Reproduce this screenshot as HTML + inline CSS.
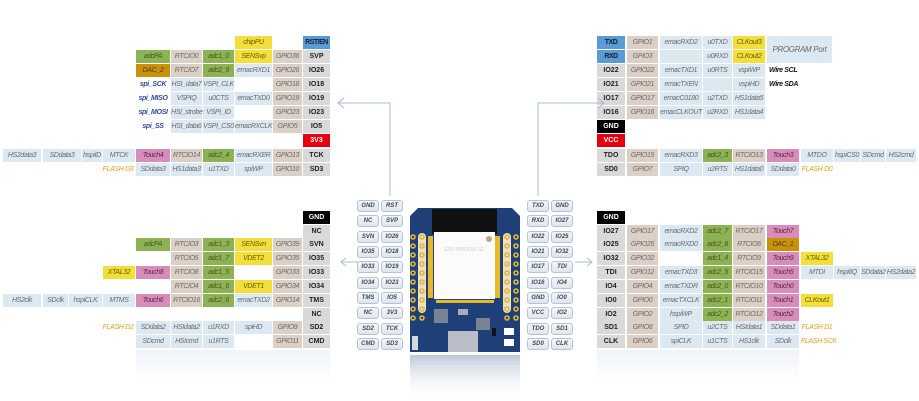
<!DOCTYPE html>
<html><head><meta charset="utf-8"><style>
body{margin:0;width:919px;height:401px;background:#fff;position:relative;overflow:hidden;font-family:"Liberation Sans",sans-serif}
.c{position:absolute;height:13px;font:italic 7px "Liberation Sans",sans-serif;letter-spacing:-0.35px;color:#6a6a6a;text-align:center;line-height:13px;white-space:nowrap;overflow:visible}
.P{background:#d9d9d9;color:#222;font-style:normal;font-weight:bold;letter-spacing:0}
.t{background:#dccfc6}.b{background:#dce9f3}.g{background:#8db254;color:#3f5a1e}.y{background:#f2df3c;color:#6b5d00}
.p{background:#d88cba;color:#5a2845}.d{background:#c9900c;color:#5a3c00}
.k{background:#000;color:#fff;font-style:normal;font-weight:bold;letter-spacing:0}.r{background:#e3000f;color:#fff;font-style:normal;font-weight:bold;letter-spacing:0}
.s{background:#5b9bd5;color:#123;font-style:normal;font-weight:bold;letter-spacing:-0.5px}
.n{color:#2e4d9a;font-weight:bold}.f{color:#e0a020}.w{color:#111;font-weight:bold;text-align:left}
.pl{position:absolute;width:20px;height:10px;border:1px solid #b5c3d3;border-radius:3px;background:linear-gradient(#f4f7fa,#dde5ee);font:italic bold 6px "Liberation Sans",sans-serif;color:#445;text-align:center;line-height:10px}
</style></head><body>

<!-- top-left -->
<div class="c y" style="left:235px;top:36px;width:37px">chipPU</div><div class="c s" style="left:303px;top:36px;width:27px">RST/EN</div>
<div class="c g" style="left:136px;top:50px;width:34px">adcPA</div><div class="c t" style="left:171px;top:50px;width:31px">RTCIO0</div><div class="c g" style="left:203px;top:50px;width:31px">adc1_0</div><div class="c y" style="left:235px;top:50px;width:37px">SENSvp</div><div class="c t" style="left:273px;top:50px;width:29px">GPIO36</div><div class="c P" style="left:303px;top:50px;width:27px">SVP</div>
<div class="c d" style="left:136px;top:64px;width:34px">DAC_2</div><div class="c t" style="left:171px;top:64px;width:31px">RTCIO7</div><div class="c g" style="left:203px;top:64px;width:31px">adc2_9</div><div class="c b" style="left:235px;top:64px;width:37px">emacRXD1</div><div class="c t" style="left:273px;top:64px;width:29px">GPIO26</div><div class="c P" style="left:303px;top:64px;width:27px">IO26</div>
<div class="c n" style="left:136px;top:78px;width:34px">spi_SCK</div><div class="c b" style="left:171px;top:78px;width:31px">HSI_data7</div><div class="c b" style="left:203px;top:78px;width:31px">VSPI_CLK</div><div class="c t" style="left:273px;top:78px;width:29px">GPIO18</div><div class="c P" style="left:303px;top:78px;width:27px">IO18</div>
<div class="c n" style="left:136px;top:92px;width:34px">spi_MISO</div><div class="c b" style="left:171px;top:92px;width:31px">VSPIQ</div><div class="c b" style="left:203px;top:92px;width:31px">u0CTS</div><div class="c b" style="left:235px;top:92px;width:37px">emacTXD0</div><div class="c t" style="left:273px;top:92px;width:29px">GPIO19</div><div class="c P" style="left:303px;top:92px;width:27px">IO19</div>
<div class="c n" style="left:136px;top:106px;width:34px">spi_MOSI</div><div class="c b" style="left:171px;top:106px;width:31px">HSI_strobe</div><div class="c b" style="left:203px;top:106px;width:31px">VSPI_ID</div><div class="c t" style="left:273px;top:106px;width:29px">GPIO23</div><div class="c P" style="left:303px;top:106px;width:27px">IO23</div>
<div class="c n" style="left:136px;top:120px;width:34px">spi_SS</div><div class="c b" style="left:171px;top:120px;width:31px">HSI_data6</div><div class="c b" style="left:203px;top:120px;width:31px">VSPI_CS0</div><div class="c b" style="left:235px;top:120px;width:37px">emacRXCLK</div><div class="c t" style="left:273px;top:120px;width:29px">GPIO5</div><div class="c P" style="left:303px;top:120px;width:27px">IO5</div>
<div class="c r" style="left:303px;top:134px;width:27px">3V3</div>
<div class="c b" style="left:3px;top:149px;width:38px">HS2data3</div><div class="c b" style="left:43px;top:149px;width:38px">SDdata3</div><div class="c b" style="left:82px;top:149px;width:20px">hspiID</div><div class="c b" style="left:103px;top:149px;width:32px">MTCK</div><div class="c p" style="left:136px;top:149px;width:34px">Touch4</div><div class="c t" style="left:171px;top:149px;width:31px">RTCIO14</div><div class="c g" style="left:203px;top:149px;width:31px">adc2_4</div><div class="c b" style="left:235px;top:149px;width:37px">emacRXER</div><div class="c t" style="left:273px;top:149px;width:29px">GPIO13</div><div class="c P" style="left:303px;top:149px;width:27px">TCK</div>
<div class="c f" style="left:100px;top:163px;width:36px">FLASH D3</div><div class="c b" style="left:136px;top:163px;width:34px">SDdata3</div><div class="c b" style="left:171px;top:163px;width:31px">HS1data3</div><div class="c b" style="left:203px;top:163px;width:31px">u1TXD</div><div class="c b" style="left:235px;top:163px;width:37px">spiWP</div><div class="c t" style="left:273px;top:163px;width:29px">GPIO10</div><div class="c P" style="left:303px;top:163px;width:27px">SD3</div>

<!-- bottom-left -->
<div class="c k" style="left:303px;top:211px;width:27px">GND</div>
<div class="c P" style="left:303px;top:225px;width:27px">NC</div>
<div class="c g" style="left:136px;top:238px;width:34px">adcPA</div><div class="c t" style="left:171px;top:238px;width:31px">RTCIO3</div><div class="c g" style="left:203px;top:238px;width:31px">adc1_3</div><div class="c y" style="left:235px;top:238px;width:37px">SENSvn</div><div class="c t" style="left:273px;top:238px;width:29px">GPIO39</div><div class="c P" style="left:303px;top:238px;width:27px">SVN</div>
<div class="c t" style="left:171px;top:252px;width:31px">RTCIO5</div><div class="c g" style="left:203px;top:252px;width:31px">adc1_7</div><div class="c y" style="left:235px;top:252px;width:37px">VDET2</div><div class="c t" style="left:273px;top:252px;width:29px">GPIO35</div><div class="c P" style="left:303px;top:252px;width:27px">IO35</div>
<div class="c y" style="left:103px;top:266px;width:32px">XTAL32</div><div class="c p" style="left:136px;top:266px;width:34px">Touch8</div><div class="c t" style="left:171px;top:266px;width:31px">RTCIO8</div><div class="c g" style="left:203px;top:266px;width:31px">adc1_5</div><div class="c t" style="left:273px;top:266px;width:29px">GPIO33</div><div class="c P" style="left:303px;top:266px;width:27px">IO33</div>
<div class="c t" style="left:171px;top:280px;width:31px">RTCIO4</div><div class="c g" style="left:203px;top:280px;width:31px">adc1_6</div><div class="c y" style="left:235px;top:280px;width:37px">VDET1</div><div class="c t" style="left:273px;top:280px;width:29px">GPIO34</div><div class="c P" style="left:303px;top:280px;width:27px">IO34</div>
<div class="c b" style="left:3px;top:294px;width:38px">HS2clk</div><div class="c b" style="left:43px;top:294px;width:25px">SDclk</div><div class="c b" style="left:69px;top:294px;width:33px">hspiCLK</div><div class="c b" style="left:103px;top:294px;width:32px">MTMS</div><div class="c p" style="left:136px;top:294px;width:34px">Touch6</div><div class="c t" style="left:171px;top:294px;width:31px">RTCIO16</div><div class="c g" style="left:203px;top:294px;width:31px">adc2_6</div><div class="c b" style="left:235px;top:294px;width:37px">emacTXD2</div><div class="c t" style="left:273px;top:294px;width:29px">GPIO14</div><div class="c P" style="left:303px;top:294px;width:27px">TMS</div>
<div class="c P" style="left:303px;top:308px;width:27px">NC</div>
<div class="c f" style="left:100px;top:321px;width:36px">FLASH D2</div><div class="c b" style="left:136px;top:321px;width:34px">SDdata2</div><div class="c b" style="left:171px;top:321px;width:31px">HSIdata2</div><div class="c b" style="left:203px;top:321px;width:31px">u1RXD</div><div class="c b" style="left:235px;top:321px;width:37px">spiHD</div><div class="c t" style="left:273px;top:321px;width:29px">GPIO9</div><div class="c P" style="left:303px;top:321px;width:27px">SD2</div>
<div class="c b" style="left:136px;top:335px;width:34px">SDcmd</div><div class="c b" style="left:171px;top:335px;width:31px">HSIcmd</div><div class="c b" style="left:203px;top:335px;width:31px">u1RTS</div><div class="c t" style="left:273px;top:335px;width:29px">GPIO11</div><div class="c P" style="left:303px;top:335px;width:27px">CMD</div>
<div style="position:absolute;left:136px;top:350px;width:194px;height:35px;background:linear-gradient(rgba(220,230,240,.45),rgba(255,255,255,0))"></div>

<!-- top-right -->
<div class="c s" style="left:597px;top:36px;width:28px">TXD</div><div class="c t" style="left:627px;top:36px;width:31px">GPIO1</div><div class="c b" style="left:660px;top:36px;width:42px">emacRXD2</div><div class="c b" style="left:703px;top:36px;width:29px">u0TXD</div><div class="c y" style="left:733px;top:36px;width:32px">CLKout3</div>
<div class="c b" style="left:767px;top:36px;width:65px;height:27px;line-height:27px;font-size:8px">PROGRAM Port</div>
<div class="c s" style="left:597px;top:50px;width:28px">RXD</div><div class="c t" style="left:627px;top:50px;width:31px">GPIO3</div><div class="c b" style="left:660px;top:50px;width:42px"></div><div class="c b" style="left:703px;top:50px;width:29px">u0RXD</div><div class="c y" style="left:733px;top:50px;width:32px">CLKout2</div>
<div class="c P" style="left:597px;top:64px;width:28px">IO22</div><div class="c t" style="left:627px;top:64px;width:31px">GPIO22</div><div class="c b" style="left:660px;top:64px;width:42px">emacTXD1</div><div class="c b" style="left:703px;top:64px;width:29px">u0RTS</div><div class="c b" style="left:733px;top:64px;width:32px">vspiWP</div><div class="c w" style="left:769px;top:64px;width:40px">Wire SCL</div>
<div class="c P" style="left:597px;top:78px;width:28px">IO21</div><div class="c t" style="left:627px;top:78px;width:31px">GPIO21</div><div class="c b" style="left:660px;top:78px;width:42px">emacTXEN</div><div class="c b" style="left:703px;top:78px;width:29px"></div><div class="c b" style="left:733px;top:78px;width:32px">vspiHD</div><div class="c w" style="left:769px;top:78px;width:40px">Wire SDA</div>
<div class="c P" style="left:597px;top:92px;width:28px">IO17</div><div class="c t" style="left:627px;top:92px;width:31px">GPIO17</div><div class="c b" style="left:660px;top:92px;width:42px">emacC0180</div><div class="c b" style="left:703px;top:92px;width:29px">u2TXD</div><div class="c b" style="left:733px;top:92px;width:32px">HS1data5</div>
<div class="c P" style="left:597px;top:106px;width:28px">IO16</div><div class="c t" style="left:627px;top:106px;width:31px">GPIO16</div><div class="c b" style="left:660px;top:106px;width:42px">emacCLKOUT</div><div class="c b" style="left:703px;top:106px;width:29px">u2RXD</div><div class="c b" style="left:733px;top:106px;width:32px">HS1data4</div>
<div class="c k" style="left:597px;top:120px;width:28px">GND</div>
<div class="c r" style="left:597px;top:134px;width:28px">VCC</div>
<div class="c P" style="left:597px;top:149px;width:28px">TDO</div><div class="c t" style="left:627px;top:149px;width:31px">GPIO15</div><div class="c b" style="left:660px;top:149px;width:42px">emacRXD3</div><div class="c g" style="left:703px;top:149px;width:29px">adc2_3</div><div class="c t" style="left:733px;top:149px;width:32px">RTCIO13</div><div class="c p" style="left:767px;top:149px;width:32px">Touch3</div><div class="c b" style="left:801px;top:149px;width:32px">MTDO</div><div class="c b" style="left:834px;top:149px;width:26px">hspiCS0</div><div class="c b" style="left:861px;top:149px;width:24px">SDcmd</div><div class="c b" style="left:886px;top:149px;width:30px">HS2cmd</div>
<div class="c P" style="left:597px;top:163px;width:28px">SD0</div><div class="c t" style="left:627px;top:163px;width:31px">GPIO7</div><div class="c b" style="left:660px;top:163px;width:42px">SPIQ</div><div class="c b" style="left:703px;top:163px;width:29px">u2RTS</div><div class="c b" style="left:733px;top:163px;width:32px">HS1data0</div><div class="c b" style="left:767px;top:163px;width:32px">SDdata0</div><div class="c f" style="left:801px;top:163px;width:32px">FLASH D0</div>

<!-- bottom-right -->
<div class="c k" style="left:597px;top:211px;width:28px">GND</div>
<div class="c P" style="left:597px;top:225px;width:28px">IO27</div><div class="c t" style="left:627px;top:225px;width:31px">GPIO17</div><div class="c b" style="left:660px;top:225px;width:42px">emacRXD2</div><div class="c g" style="left:703px;top:225px;width:29px">adc2_7</div><div class="c t" style="left:733px;top:225px;width:32px">RTCIO17</div><div class="c p" style="left:767px;top:225px;width:32px">Touch7</div>
<div class="c P" style="left:597px;top:238px;width:28px">IO25</div><div class="c t" style="left:627px;top:238px;width:31px">GPIO25</div><div class="c b" style="left:660px;top:238px;width:42px">emacRXD0</div><div class="c g" style="left:703px;top:238px;width:29px">adc2_8</div><div class="c t" style="left:733px;top:238px;width:32px">RTCIO6</div><div class="c d" style="left:767px;top:238px;width:32px">DAC_1</div>
<div class="c P" style="left:597px;top:252px;width:28px">IO32</div><div class="c t" style="left:627px;top:252px;width:31px">GPIO32</div><div class="c g" style="left:703px;top:252px;width:29px">adc1_4</div><div class="c t" style="left:733px;top:252px;width:32px">RTCIO9</div><div class="c p" style="left:767px;top:252px;width:32px">Touch9</div><div class="c y" style="left:801px;top:252px;width:32px">XTAL32</div>
<div class="c P" style="left:597px;top:266px;width:28px">TDI</div><div class="c t" style="left:627px;top:266px;width:31px">GPIO12</div><div class="c b" style="left:660px;top:266px;width:42px">emacTXD3</div><div class="c g" style="left:703px;top:266px;width:29px">adc2_5</div><div class="c t" style="left:733px;top:266px;width:32px">RTCIO15</div><div class="c p" style="left:767px;top:266px;width:32px">Touch5</div><div class="c b" style="left:801px;top:266px;width:32px">MTDI</div><div class="c b" style="left:834px;top:266px;width:26px">hspiIIQ</div><div class="c b" style="left:861px;top:266px;width:24px">SDdata2</div><div class="c b" style="left:886px;top:266px;width:30px">HS2data2</div>
<div class="c P" style="left:597px;top:280px;width:28px">IO4</div><div class="c t" style="left:627px;top:280px;width:31px">GPIO4</div><div class="c b" style="left:660px;top:280px;width:42px">emacTXDR</div><div class="c g" style="left:703px;top:280px;width:29px">adc2_0</div><div class="c t" style="left:733px;top:280px;width:32px">RTCIO10</div><div class="c p" style="left:767px;top:280px;width:32px">Touch0</div>
<div class="c P" style="left:597px;top:294px;width:28px">IO0</div><div class="c t" style="left:627px;top:294px;width:31px">GPIO0</div><div class="c b" style="left:660px;top:294px;width:42px">emacTXCLK</div><div class="c g" style="left:703px;top:294px;width:29px">adc2_1</div><div class="c t" style="left:733px;top:294px;width:32px">RTCIO11</div><div class="c p" style="left:767px;top:294px;width:32px">Touch1</div><div class="c y" style="left:801px;top:294px;width:32px">CLKout1</div>
<div class="c P" style="left:597px;top:308px;width:28px">IO2</div><div class="c t" style="left:627px;top:308px;width:31px">GPIO2</div><div class="c b" style="left:660px;top:308px;width:42px">hspiWP</div><div class="c g" style="left:703px;top:308px;width:29px">adc2_2</div><div class="c t" style="left:733px;top:308px;width:32px">RTCIO12</div><div class="c p" style="left:767px;top:308px;width:32px">Touch2</div>
<div class="c P" style="left:597px;top:321px;width:28px">SD1</div><div class="c t" style="left:627px;top:321px;width:31px">GPIO8</div><div class="c b" style="left:660px;top:321px;width:42px">SPID</div><div class="c b" style="left:703px;top:321px;width:29px">u2CTS</div><div class="c b" style="left:733px;top:321px;width:32px">HSIdata1</div><div class="c b" style="left:767px;top:321px;width:32px">SDdata1</div><div class="c f" style="left:801px;top:321px;width:32px">FLASH D1</div>
<div class="c P" style="left:597px;top:335px;width:28px">CLK</div><div class="c t" style="left:627px;top:335px;width:31px">GPIO6</div><div class="c b" style="left:660px;top:335px;width:42px">spiCLK</div><div class="c b" style="left:703px;top:335px;width:29px">u1CTS</div><div class="c b" style="left:733px;top:335px;width:32px">HS1clk</div><div class="c b" style="left:767px;top:335px;width:32px">SDclk</div><div class="c f" style="left:801px;top:335px;width:34px">FLASH SCK</div>
<div style="position:absolute;left:597px;top:350px;width:202px;height:35px;background:linear-gradient(rgba(220,230,240,.45),rgba(255,255,255,0))"></div>

<!-- connectors / board -->
<svg style="position:absolute;left:0;top:0" width="919" height="401">
<defs><linearGradient id="rf" x1="0" y1="0" x2="0" y2="1"><stop offset="0" stop-color="#8a9ab8" stop-opacity=".55"/><stop offset="1" stop-color="#fff" stop-opacity="0"/></linearGradient></defs>
<g fill="none" stroke="#a9bccf" stroke-width="1">
<polyline points="390,196 390,103 338,103"/><polyline points="344,98 338,103 344,108"/>
<polyline points="538,196 538,103 604,103"/><polyline points="598,98 604,103 598,108"/>
<line x1="358" y1="262" x2="341" y2="262"/><polyline points="346,258 341,262 346,266"/>
<line x1="575" y1="262" x2="592" y2="262"/><polyline points="587,258 592,262 587,266"/>
</g>
<rect x="410" y="355" width="110" height="46" fill="url(#rf)"/>
<path d="M418,208 H512 L520,216 V352 H410 V216 Z" fill="#1f3f78"/>
<rect x="432" y="209" width="65" height="25" fill="#111"/>
<rect x="434" y="232" width="61" height="67" fill="#fbfbfb"/>
<text x="464" y="251" font-family="Liberation Sans" font-size="5" fill="#c8cfdb" text-anchor="middle">ESP-WROOM-32</text>
<circle cx="489" cy="239" r="3" fill="#c8a08a"/>
<rect x="418" y="233" width="8" height="80" rx="4" fill="#e8e0c8"/>
<rect x="503" y="233" width="8" height="80" rx="4" fill="#e8e0c8"/>
<g fill="#e6b82c">
<rect x="436" y="300" width="58" height="3"/>
<rect x="428" y="236" width="5" height="62"/><rect x="495" y="236" width="5" height="62"/>
</g>
<g fill="none" stroke="#e6b82c" stroke-width="1.6">
<circle cx="413" cy="237" r="2"/><circle cx="413" cy="246" r="2"/><circle cx="413" cy="255" r="2"/><circle cx="413" cy="264" r="2"/><circle cx="413" cy="273" r="2"/><circle cx="413" cy="282" r="2"/><circle cx="413" cy="291" r="2"/><circle cx="413" cy="300" r="2"/><circle cx="413" cy="309" r="2"/><circle cx="413" cy="318" r="2"/>
<circle cx="422" cy="237" r="2"/><circle cx="422" cy="246" r="2"/><circle cx="422" cy="255" r="2"/><circle cx="422" cy="264" r="2"/><circle cx="422" cy="273" r="2"/><circle cx="422" cy="282" r="2"/><circle cx="422" cy="291" r="2"/><circle cx="422" cy="300" r="2"/><circle cx="422" cy="309" r="2"/><circle cx="422" cy="318" r="2"/>
<circle cx="507" cy="237" r="2"/><circle cx="507" cy="246" r="2"/><circle cx="507" cy="255" r="2"/><circle cx="507" cy="264" r="2"/><circle cx="507" cy="273" r="2"/><circle cx="507" cy="282" r="2"/><circle cx="507" cy="291" r="2"/><circle cx="507" cy="300" r="2"/><circle cx="507" cy="309" r="2"/><circle cx="507" cy="318" r="2"/>
<circle cx="516" cy="237" r="2"/><circle cx="516" cy="246" r="2"/><circle cx="516" cy="255" r="2"/><circle cx="516" cy="264" r="2"/><circle cx="516" cy="273" r="2"/><circle cx="516" cy="282" r="2"/><circle cx="516" cy="291" r="2"/><circle cx="516" cy="300" r="2"/><circle cx="516" cy="309" r="2"/><circle cx="516" cy="318" r="2"/>
</g>
<rect x="434" y="309" width="14" height="14" fill="#7a8392"/>
<rect x="458" y="309" width="10" height="6" fill="#aab"/>
<rect x="476" y="318" width="14" height="12" fill="#7a8392"/>
<rect x="492" y="328" width="4" height="8" fill="#111"/>
<rect x="448" y="331" width="30" height="21" fill="#b9bec6"/>
<rect x="412" y="336" width="6" height="14" fill="#d8d8d8"/>
<rect x="504" y="328" width="10" height="7" fill="#fff"/><rect x="504" y="339" width="10" height="7" fill="#fff"/>
</svg>

<!-- pill labels -->
<div class="pl" style="left:357px;top:200px">GND</div><div class="pl" style="left:381px;top:200px">RST</div>
<div class="pl" style="left:357px;top:215px">NC</div><div class="pl" style="left:381px;top:215px">SVP</div>
<div class="pl" style="left:357px;top:231px">SVN</div><div class="pl" style="left:381px;top:231px">IO26</div>
<div class="pl" style="left:357px;top:246px">IO35</div><div class="pl" style="left:381px;top:246px">IO18</div>
<div class="pl" style="left:357px;top:261px">IO33</div><div class="pl" style="left:381px;top:261px">IO19</div>
<div class="pl" style="left:357px;top:277px">IO34</div><div class="pl" style="left:381px;top:277px">IO23</div>
<div class="pl" style="left:357px;top:292px">TMS</div><div class="pl" style="left:381px;top:292px">IO5</div>
<div class="pl" style="left:357px;top:307px">NC</div><div class="pl" style="left:381px;top:307px">3V3</div>
<div class="pl" style="left:357px;top:323px">SD2</div><div class="pl" style="left:381px;top:323px">TCK</div>
<div class="pl" style="left:357px;top:338px">CMD</div><div class="pl" style="left:381px;top:338px">SD3</div>
<div class="pl" style="left:527px;top:200px">TXD</div><div class="pl" style="left:551px;top:200px">GND</div>
<div class="pl" style="left:527px;top:215px">RXD</div><div class="pl" style="left:551px;top:215px">IO27</div>
<div class="pl" style="left:527px;top:231px">IO22</div><div class="pl" style="left:551px;top:231px">IO25</div>
<div class="pl" style="left:527px;top:246px">IO21</div><div class="pl" style="left:551px;top:246px">IO32</div>
<div class="pl" style="left:527px;top:261px">IO17</div><div class="pl" style="left:551px;top:261px">TDI</div>
<div class="pl" style="left:527px;top:277px">IO16</div><div class="pl" style="left:551px;top:277px">IO4</div>
<div class="pl" style="left:527px;top:292px">GND</div><div class="pl" style="left:551px;top:292px">IO0</div>
<div class="pl" style="left:527px;top:307px">VCC</div><div class="pl" style="left:551px;top:307px">IO2</div>
<div class="pl" style="left:527px;top:323px">TDO</div><div class="pl" style="left:551px;top:323px">SD1</div>
<div class="pl" style="left:527px;top:338px">SD0</div><div class="pl" style="left:551px;top:338px">CLK</div>
</body></html>
